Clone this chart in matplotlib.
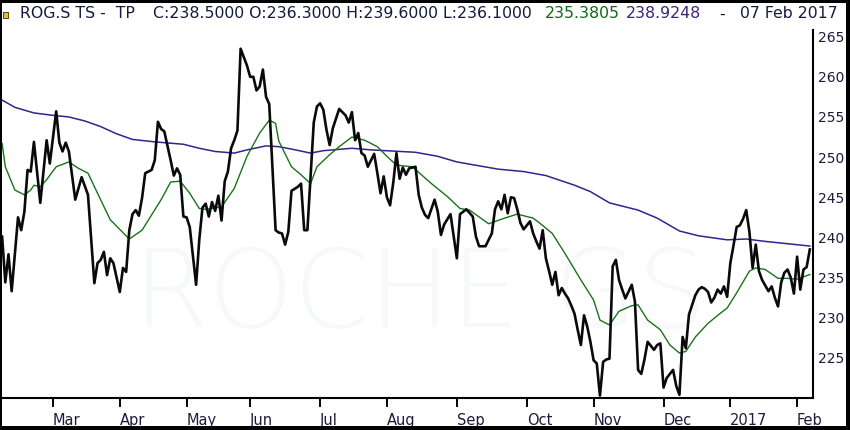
import numpy as np
import pandas as pd
import matplotlib
matplotlib.use('Agg')
import matplotlib.pyplot as plt
from matplotlib.patches import Rectangle

plt.rcParams['font.family'] = ['DejaVu Sans']

# ---------------- data ----------------
holidays = ['2016-03-25', '2016-03-28', '2016-05-05', '2016-05-16',
            '2016-08-01', '2016-12-26', '2017-01-02']
period_start, period_end = '2016-02-08', '2017-02-07'

close_dates = [
    '2016-02-08', '2016-02-09', '2016-02-10', '2016-02-11', '2016-02-15', '2016-02-16', '2016-02-17',
    '2016-02-18', '2016-02-19', '2016-02-22', '2016-02-24', '2016-02-26', '2016-02-29',
    '2016-03-02', '2016-03-03', '2016-03-04', '2016-03-07', '2016-03-08', '2016-03-10', '2016-03-14',
    '2016-03-16', '2016-03-18', '2016-03-21', '2016-03-22', '2016-03-23', '2016-03-24', '2016-03-29',
    '2016-03-30', '2016-04-01', '2016-04-04', '2016-04-05', '2016-04-06', '2016-04-07', '2016-04-08',
    '2016-04-11', '2016-04-12', '2016-04-13', '2016-04-15', '2016-04-18', '2016-04-19', '2016-04-20',
    '2016-04-21', '2016-04-25', '2016-04-26', '2016-04-27', '2016-04-28', '2016-04-29', '2016-05-02',
    '2016-05-03', '2016-05-06', '2016-05-09', '2016-05-10', '2016-05-11', '2016-05-12', '2016-05-13',
    '2016-05-17', '2016-05-18', '2016-05-19', '2016-05-20', '2016-05-23', '2016-05-24', '2016-05-25',
    '2016-05-26', '2016-05-27', '2016-05-31', '2016-06-01', '2016-06-02', '2016-06-03', '2016-06-06',
    '2016-06-07', '2016-06-08', '2016-06-09', '2016-06-10', '2016-06-13', '2016-06-14', '2016-06-15',
    '2016-06-16', '2016-06-17', '2016-06-20', '2016-06-22', '2016-06-23', '2016-06-24', '2016-06-27',
    '2016-06-28', '2016-06-29', '2016-06-30', '2016-07-01', '2016-07-04', '2016-07-05', '2016-07-06',
    '2016-07-07', '2016-07-11', '2016-07-13', '2016-07-14', '2016-07-15', '2016-07-18', '2016-07-19',
    '2016-07-20', '2016-07-21', '2016-07-22', '2016-07-25', '2016-07-26', '2016-07-27', '2016-07-28',
    '2016-07-29', '2016-08-02', '2016-08-03', '2016-08-04', '2016-08-05', '2016-08-08', '2016-08-09',
    '2016-08-10', '2016-08-11', '2016-08-15', '2016-08-16', '2016-08-17', '2016-08-18', '2016-08-19',
    '2016-08-23', '2016-08-24', '2016-08-25', '2016-08-26', '2016-08-30', '2016-09-01', '2016-09-02',
    '2016-09-06', '2016-09-08', '2016-09-09', '2016-09-12', '2016-09-14', '2016-09-16', '2016-09-19',
    '2016-09-20', '2016-09-21', '2016-09-22', '2016-09-23', '2016-09-26', '2016-09-27', '2016-09-28',
    '2016-09-29', '2016-09-30', '2016-10-04', '2016-10-05', '2016-10-06', '2016-10-07', '2016-10-10',
    '2016-10-11', '2016-10-12', '2016-10-13', '2016-10-14', '2016-10-17', '2016-10-18', '2016-10-19',
    '2016-10-20', '2016-10-21', '2016-10-24', '2016-10-25', '2016-10-26', '2016-10-27', '2016-10-28',
    '2016-10-31', '2016-11-01', '2016-11-02', '2016-11-03', '2016-11-04', '2016-11-07', '2016-11-08',
    '2016-11-09', '2016-11-10', '2016-11-11', '2016-11-14', '2016-11-15', '2016-11-17', '2016-11-18',
    '2016-11-21', '2016-11-22', '2016-11-23', '2016-11-24', '2016-11-25', '2016-11-28', '2016-11-29',
    '2016-11-30', '2016-12-01', '2016-12-02', '2016-12-06', '2016-12-07', '2016-12-08', '2016-12-09',
    '2016-12-12', '2016-12-13', '2016-12-14', '2016-12-15', '2016-12-16', '2016-12-19', '2016-12-20',
    '2016-12-21', '2016-12-22', '2016-12-23', '2016-12-27', '2016-12-28', '2016-12-29', '2016-12-30',
    '2017-01-03', '2017-01-04', '2017-01-05', '2017-01-06', '2017-01-09', '2017-01-10', '2017-01-11',
    '2017-01-12', '2017-01-13', '2017-01-16', '2017-01-17', '2017-01-18', '2017-01-19', '2017-01-20',
    '2017-01-23', '2017-01-24', '2017-01-25', '2017-01-26', '2017-01-27', '2017-01-30', '2017-01-31',
    '2017-02-01', '2017-02-02', '2017-02-03', '2017-02-06', '2017-02-07',
]
close_values = [
    240.1, 234.4, 237.9, 233.3, 242.5, 240.9, 243.2,
    248.4, 248.2, 251.9, 244.3, 252.1, 249.2,
    255.7, 251.8, 250.7, 251.8, 250.7, 244.7, 247.5,
    245.3, 234.3, 236.8, 237.2, 238.2, 235.3, 237.4,
    236.8, 233.2, 236.2, 235.7, 240.9, 242.9, 243.4,
    242.7, 244.9, 248.0, 248.4, 249.6, 254.4, 253.5,
    253.2, 249.6, 247.7, 248.6, 247.8, 242.6, 242.5,
    241.3, 234.1, 239.7, 243.7, 244.2, 242.6, 244.4,
    243.3, 245.2, 242.1, 247.0, 248.2, 251.1, 252.1,
    253.3, 263.5, 261.4, 260.0, 260.0, 258.3, 258.8,
    260.9, 257.5, 256.6, 248.7, 240.9, 240.6, 240.5,
    239.1, 240.7, 245.8, 246.3, 246.7, 240.9, 240.9,
    247.5, 254.3, 256.3, 256.7, 255.9, 253.4, 251.5,
    253.6, 256.0, 255.2, 254.3, 255.6, 252.1, 253.0,
    250.5, 250.2, 248.8, 249.6, 250.4, 248.0, 245.5,
    247.6, 245.0, 244.0, 246.8, 250.5, 247.3, 248.7,
    247.8, 248.6, 248.8, 245.3, 243.7, 242.8, 242.4,
    244.7, 243.2, 240.3, 241.6, 242.9, 237.4, 242.9,
    243.5, 242.6, 240.1, 238.9, 238.9, 240.5, 243.5,
    244.5, 243.5, 245.3, 243.0, 245.0, 244.9, 243.5,
    241.8, 241.0, 242.0, 240.5, 239.5, 238.6, 240.9,
    237.4, 235.8, 234.1, 235.7, 232.8, 233.7, 233.0,
    232.4, 231.5, 230.5, 228.5, 226.6, 230.3, 228.9,
    227.0, 224.7, 224.3, 220.3, 224.5, 224.8, 224.9,
    236.4, 237.2, 234.7, 233.5, 232.4, 234.1, 232.0,
    223.5, 223.0, 224.8, 227.0, 226.5, 226.0, 226.6,
    226.8, 221.3, 222.5, 223.5, 221.5, 220.4, 227.6,
    226.2, 230.4, 231.6, 232.8, 233.5, 233.8, 233.6,
    233.2, 231.9, 232.5, 233.5, 233.0, 233.9, 232.6,
    236.8, 239.0, 241.3, 241.5, 242.3, 243.4, 240.7,
    236.2, 239.1, 235.8, 234.7, 234.0, 233.3, 233.9,
    232.5, 231.4, 234.4, 235.6, 236.0, 235.0, 233.0,
    237.6, 233.5, 236.0, 236.3, 238.5,
]

ma_short_dates = [
    '2016-02-08', '2016-02-09', '2016-02-12', '2016-02-17', '2016-02-19', '2016-02-22', '2016-02-24',
    '2016-02-26', '2016-03-02', '2016-03-08', '2016-03-11', '2016-03-16', '2016-03-21', '2016-03-29',
    '2016-04-06', '2016-04-12', '2016-04-20', '2016-04-25', '2016-04-28', '2016-05-03', '2016-05-09',
    '2016-05-11', '2016-05-19', '2016-05-25', '2016-05-31', '2016-06-06', '2016-06-09', '2016-06-13',
    '2016-06-14', '2016-06-20', '2016-06-23', '2016-06-28', '2016-06-30', '2016-07-06', '2016-07-11',
    '2016-07-15', '2016-07-21', '2016-07-27', '2016-08-02', '2016-08-05', '2016-08-12', '2016-08-22',
    '2016-08-29', '2016-09-02', '2016-09-07', '2016-09-15', '2016-09-22', '2016-09-28', '2016-10-05',
    '2016-10-07', '2016-10-13', '2016-10-19', '2016-10-26', '2016-11-01', '2016-11-03', '2016-11-08',
    '2016-11-11', '2016-11-17', '2016-11-21', '2016-11-24', '2016-11-30', '2016-12-05', '2016-12-08',
    '2016-12-12', '2016-12-15', '2016-12-21', '2016-12-28', '2016-12-30', '2017-01-05', '2017-01-11',
    '2017-01-13', '2017-01-18', '2017-01-24', '2017-01-27', '2017-02-01', '2017-02-07',
]
ma_short_values = [
    251.7, 248.8, 245.9, 245.3, 245.9, 246.5, 246.3,
    247.2, 248.8, 249.4, 248.6, 248.0, 245.5, 242.2,
    239.8, 240.9, 244.7, 246.9, 247.0, 245.5, 243.6,
    243.5, 243.8, 246.1, 250.1, 253.0, 254.6, 254.2,
    252.0, 248.8, 247.8, 246.7, 248.8, 250.3, 251.3,
    252.5, 252.1, 251.3, 250.1, 249.0, 248.8, 246.7,
    245.1, 243.6, 243.4, 241.7, 242.4, 242.9, 242.4,
    241.8, 240.5, 238.0, 234.7, 232.2, 229.7, 229.1,
    230.8, 231.5, 231.6, 229.7, 228.5, 226.6, 225.6,
    225.8, 227.6, 229.3, 230.6, 231.2, 233.1, 235.8,
    236.2, 236.0, 234.9, 234.9, 234.8, 235.3805,
]

ma_long_dates = [
    '2016-02-08', '2016-02-12', '2016-02-22', '2016-03-01', '2016-03-08', '2016-03-15', '2016-03-22',
    '2016-03-31', '2016-04-07', '2016-04-18', '2016-04-29', '2016-05-09', '2016-05-17', '2016-05-25',
    '2016-05-31', '2016-06-08', '2016-06-14', '2016-06-20', '2016-06-28', '2016-07-04', '2016-07-15',
    '2016-07-25', '2016-08-15', '2016-08-24', '2016-09-01', '2016-09-20', '2016-09-30', '2016-10-11',
    '2016-10-24', '2016-10-31', '2016-11-08', '2016-11-21', '2016-11-29', '2016-12-08', '2016-12-16',
    '2016-12-30', '2017-01-10', '2017-01-18', '2017-02-07',
]
ma_long_values = [
    257.1, 256.2, 255.5, 255.2, 255.0, 254.5, 253.8,
    252.9, 252.2, 251.9, 251.6, 251.1, 250.7, 250.5,
    250.9, 251.4, 251.3, 251.0, 250.5, 250.8, 251.1,
    250.9, 250.6, 250.1, 249.4, 248.5, 248.2, 247.7,
    246.5, 245.7, 244.3, 243.4, 242.4, 240.8, 240.2,
    239.7, 239.8, 239.5, 238.9248,
]

month_labels = ['Mar', 'Apr', 'May', 'Jun', 'Jul', 'Aug', 'Sep', 'Oct', 'Nov', 'Dec', '2017', 'Feb']
y_ticks = [225, 230, 235, 240, 245, 250, 255, 260, 265]

header_parts = [
    ('ROG.S TS -  TP', '#141c3d'),
    ('C:238.5000 O:236.3000 H:239.6000 L:236.1000', '#141c3d'),
    ('235.3805', '#0e6b12'),
    ('238.9248', '#3c2478'),
    ('-', '#141c3d'),
    ('07 Feb 2017', '#141c3d'),
]
header_x_px = [20, 153, 545, 626, 719, 740]

# ---------------- trading-day axis ----------------
days = pd.bdate_range(period_start, period_end)
days = days[~days.isin(pd.to_datetime(holidays))]


def pos(ds):
    idx = days.get_indexer(pd.to_datetime(ds))
    assert (idx >= 0).all()
    return idx


s = pd.Series(np.arange(len(days)), index=days)
month_first = s.groupby([days.year, days.month]).first().values[1:]

W, H = 850, 430
fig = plt.figure(figsize=(W / 100, H / 100), dpi=100)
fig.patch.set_facecolor('white')
ax = fig.add_axes([2 / W, 32 / H, 811 / W, 368 / H])
ax.set_facecolor('white')

ax.text((133 - 2) / 811, (398 - 297) / 368, 'ROCHE GS', transform=ax.transAxes,
        fontsize=78, color='#f7f8f9', ha='left', va='center', zorder=0,
        fontweight='light')

ax.plot(pos(ma_long_dates), ma_long_values, color='#3b1f8e', lw=1.1, zorder=2)
ax.plot(pos(ma_short_dates), ma_short_values, color='#1b721b', lw=1.0, zorder=3)
ax.plot(pos(close_dates), close_values, color='#0a0a0a', lw=1.9, zorder=4,
        solid_joinstyle='round')

ax.set_xlim(-0.04, 255.0)
ax.set_ylim(220.0, 265.83)

ax.set_xticks(month_first)
ax.set_xticklabels(month_labels, ha='left')
ax.tick_params(axis='x', direction='out', length=6.5, width=1.4, pad=4,
               labelsize=10.5, color='black', labelcolor='#1a1d3d')

ax.yaxis.tick_right()
ax.set_yticks(y_ticks)
ax.set_yticklabels([str(v) for v in y_ticks])
ax.tick_params(axis='y', length=0, pad=3.6, labelsize=10, labelcolor='#1a1d3d')

for side in ['top', 'left']:
    ax.spines[side].set_visible(False)
for side in ['bottom', 'right']:
    ax.spines[side].set_linewidth(1.5)
    ax.spines[side].set_color('black')

# header texts
for (txt, col), xp in zip(header_parts, header_x_px):
    fig.text(xp / W, 1 - 14 / H, txt, color=col, fontsize=11.3, ha='left', va='center')

# small legend square at the left of header
fig.patches.append(Rectangle((3 / W, 1 - 18 / H), 5 / W, 6 / H, transform=fig.transFigure,
                             facecolor='#d8c23c', edgecolor='#333300', lw=0.6))

# black outer frame
for (x0, y0, w, h) in [(0, 0, 2, H), (W - 4, 0, 4, H), (0, 0, W, 4), (0, H - 3, W, 3)]:
    fig.patches.append(Rectangle((x0 / W, y0 / H), w / W, h / H, transform=fig.transFigure,
                                 facecolor='black', edgecolor='none'))

fig.savefig('out.png', dpi=100, facecolor='white')
